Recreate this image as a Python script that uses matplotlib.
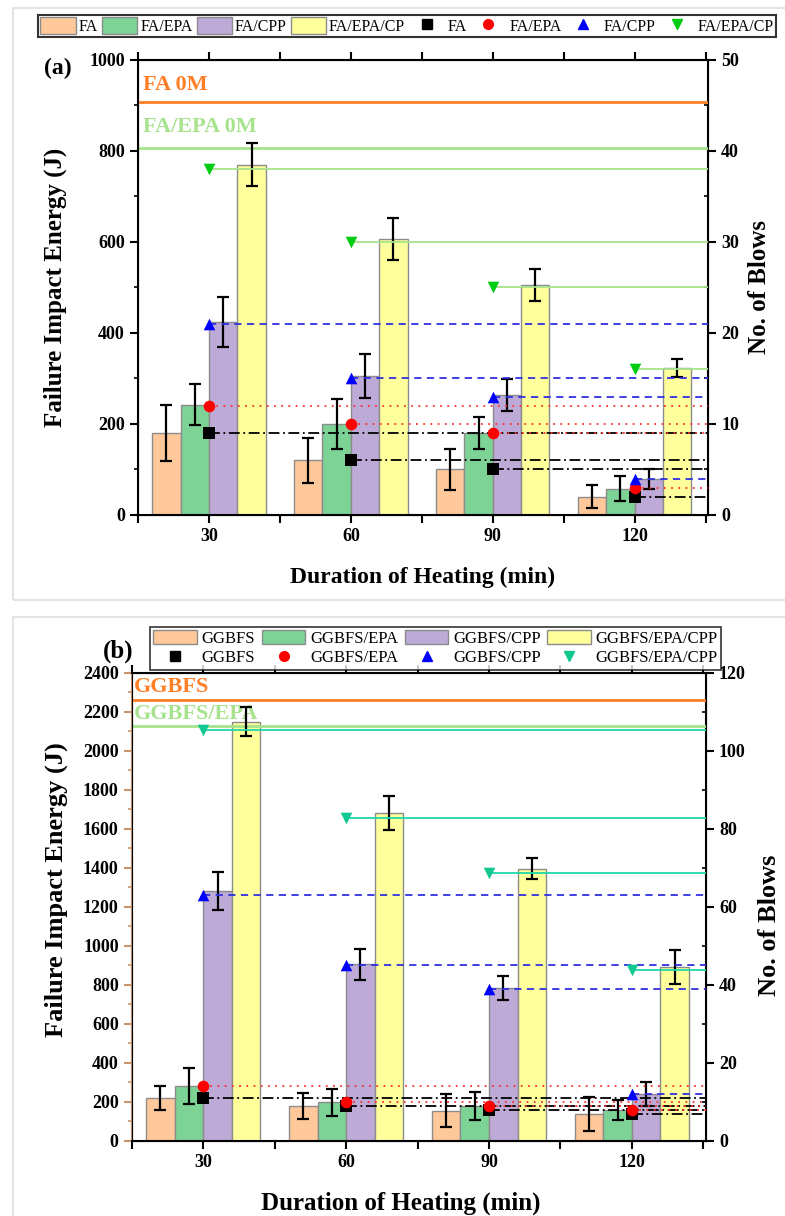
import numpy as np
import matplotlib.pyplot as plt
from matplotlib.patches import Patch, Rectangle
from matplotlib.lines import Line2D
from matplotlib.ticker import MultipleLocator

plt.rcParams['font.family'] = ['Liberation Serif', 'DejaVu Serif']
plt.rcParams['font.weight'] = 'bold'

# heating durations (min)
durations = [30, 60, 90, 120]

# panel (a) - failure impact energy (J)
fa = [180, 120, 100, 40]
fa_err = [62, 50, 45, 25]
fa_epa = [242, 200, 180, 58]
fa_epa_err = [45, 55, 35, 27]
fa_cpp = [425, 305, 264, 80]
fa_cpp_err = [55, 48, 35, 22]
fa_epa_cp = [770, 606, 505, 323]
fa_epa_cp_err = [48, 46, 35, 20]

# panel (a) - number of blows
fa_blows = [9, 6, 5, 2]
fa_epa_blows = [12, 10, 9, 3]
fa_cpp_blows = [21, 15, 13, 4]
fa_epa_cp_blows = [38, 30, 25, 16]
fa_0m = 908      # J
fa_epa_0m = 806  # J

# panel (b) - failure impact energy (J)
gg = [220, 180, 155, 140]
gg_err = [62, 68, 85, 88]
gg_epa = [280, 198, 178, 158]
gg_epa_err = [92, 68, 72, 52]
gg_cpp = [1280, 905, 785, 240]
gg_cpp_err = [97, 80, 60, 60]
gg_epa_cpp = [2150, 1682, 1397, 892]
gg_epa_cpp_err = [75, 87, 55, 87]

# panel (b) - number of blows
gg_blows = [11, 9, 8, 7]
gg_epa_blows = [14, 10, 9, 8]
gg_cpp_blows = [63, 45, 39, 12]
gg_epa_cpp_blows = [105.3, 82.7, 68.6, 43.8]
gg_0m = 2262
gg_epa_0m = 2128

bar_colors = ['#ffc89b', '#7dd296', '#bdaad6', '#ffff9c']
offsets = [-12, -6, 0, 6]
bw = 6

fig = plt.figure(figsize=(7.85, 12.16), dpi=100)

# light panel frames
fig.add_artist(Rectangle((13 / 785, 1 - 600 / 1216), 0.99, 592 / 1216, transform=fig.transFigure,
                         fill=False, ec='#e4e4e4', lw=1.5))
fig.add_artist(Rectangle((13 / 785, -0.01), 0.99, 1 - 617 / 1216 + 0.01, transform=fig.transFigure,
                         fill=False, ec='#e4e4e4', lw=1.5))


def draw_panel(ax, series, errs, blows, mk_colors, line_styles, left_max, left_step, right_max, right_step):
    x = np.array(durations)
    for i in range(4):
        ax.bar(x + offsets[i], series[i], width=bw, align='edge', color=bar_colors[i],
               edgecolor='#8c8c8c', lw=1, zorder=2)
        ax.errorbar(x + offsets[i] + bw / 2, series[i], yerr=errs[i], fmt='none', ecolor='black',
                    elinewidth=1.6, capsize=4, capthick=1.6, zorder=4)
    ax.set_xlim(15, 135.5)
    ax.set_ylim(0, left_max)
    ax.set_xticks(durations)
    ax.xaxis.set_minor_locator(MultipleLocator(15))
    ax.yaxis.set_major_locator(MultipleLocator(left_step))
    ax.yaxis.set_minor_locator(MultipleLocator(left_step / 2))
    ax.tick_params(axis='both', which='major', labelsize=13, width=1.5, length=6, direction='out')
    ax.tick_params(axis='y', which='minor', width=1.2, length=3, direction='out')
    ax.tick_params(axis='x', which='minor', width=1.5, length=6, direction='out')
    ax.tick_params(axis='x', which='both', top=True, labeltop=False)
    for s in ax.spines.values():
        s.set_linewidth(1.5)

    ax2 = ax.twinx()
    ax2.set_ylim(0, right_max)
    ax2.yaxis.set_major_locator(MultipleLocator(right_step))
    ax2.yaxis.set_minor_locator(MultipleLocator(right_step / 2))
    ax2.tick_params(axis='y', which='major', labelsize=13, width=1.5, length=6, direction='out')
    ax2.tick_params(axis='y', which='minor', width=1.2, length=3, direction='in')
    markers = ['s', 'o', '^', 'v']
    for i in range(4):
        ax2.hlines(blows[i], x, 135.5, colors=line_styles[i][0], linestyles=line_styles[i][1],
                   lw=1.3, zorder=3)
        ax2.scatter(x, blows[i], marker=markers[i], s=70, color=mk_colors[i], zorder=5, lw=0)
    return ax2


# ---------- panel (a)
axa = fig.add_axes([0.1758, 0.5765, 0.726, 0.3742])
mk_a = ['black', '#ff0000', '#0000ff', '#00cc11']
ls_a = [('black', (0, (6, 2, 1, 2))), ('#ff3030', (0, (1, 3))), ('#3030e0', (0, (4, 3))),
        ('#a6e38c', '-')]
axa2 = draw_panel(axa, [fa, fa_epa, fa_cpp, fa_epa_cp], [fa_err, fa_epa_err, fa_cpp_err, fa_epa_cp_err],
                  [fa_blows, fa_epa_blows, fa_cpp_blows, fa_epa_cp_blows], mk_a, ls_a, 1000, 200, 50, 10)
axa.axhline(fa_0m, color='#ff7f27', lw=2, zorder=3)
axa.axhline(fa_epa_0m, color='#a6e38c', lw=2, zorder=3)
axa.text(16, 945, 'FA 0M', color='#ff7f27', fontsize=16, fontweight='bold', va='center')
axa.text(16, 853, 'FA/EPA 0M', color='#a6e38c', fontsize=16, fontweight='bold', va='center')
fig.text(0.07, 0.7636, 'Failure Impact Energy (J)', rotation=90, fontsize=18, fontweight='bold',
         ha='center', va='center')
fig.text(0.968, 0.7636, 'No. of Blows', rotation=90, fontsize=18, fontweight='bold',
         ha='center', va='center')
fig.text(0.538, 1 - 577 / 1216, 'Duration of Heating (min)', fontsize=17, fontweight='bold',
         ha='center', va='center')
fig.text(0.074, 1 - 68 / 1216, '(a)', fontsize=17, fontweight='bold', ha='center', va='center')

names_a = ['FA', 'FA/EPA', 'FA/CPP', 'FA/EPA/CP']
handles_a = [Patch(facecolor=bar_colors[i], edgecolor='#8c8c8c') for i in range(4)]
handles_a += [Line2D([], [], ls='none', marker=m, color=c, markersize=7)
              for m, c in zip(['s', 'o', '^', 'v'], mk_a)]
leg_a = fig.legend(handles_a, names_a + names_a, loc='upper left', bbox_to_anchor=(38 / 785, 1 - 15 / 1216),
                   ncol=8, frameon=True, fancybox=False, edgecolor='black',
                   handlelength=2.2, handleheight=1.2, handletextpad=0.2, columnspacing=0.25,
                   borderpad=0.15, borderaxespad=0, prop={'weight': 'normal', 'size': 11.5})
leg_a.get_frame().set_linewidth(1.5)

# ---------- panel (b)
axb = fig.add_axes([0.168, 0.0617, 0.731, 0.3849])
mk_b = ['black', '#ff0000', '#0000ff', '#10c890']
ls_b = [('black', (0, (6, 2, 1, 2))), ('#ff3030', (0, (1, 3))), ('#3030e0', (0, (4, 3))),
        ('#20d8a8', '-')]
axb2 = draw_panel(axb, [gg, gg_epa, gg_cpp, gg_epa_cpp], [gg_err, gg_epa_err, gg_cpp_err, gg_epa_cpp_err],
                  [gg_blows, gg_epa_blows, gg_cpp_blows, gg_epa_cpp_blows], mk_b, ls_b, 2400, 200, 120, 20)
axb.spines['left'].set_color('#c8946e')
axb.tick_params(axis='y', which='both', color='#c8946e')
axb.axhline(gg_0m, color='#ff7f27', lw=2, zorder=3)
axb.axhline(gg_epa_0m, color='#a6e38c', lw=2, zorder=3)
axb.text(15.5, 2330, 'GGBFS', color='#ff7f27', fontsize=16, fontweight='bold', va='center')
axb.text(15.5, 2190, 'GGBFS/EPA', color='#a6e38c', fontsize=16, fontweight='bold', va='center')
fig.text(0.072, 1 - 890 / 1216, 'Failure Impact Energy (J)', rotation=90, fontsize=19, fontweight='bold',
         ha='center', va='center')
fig.text(0.98, 1 - 925 / 1216, 'No. of Blows', rotation=90, fontsize=19, fontweight='bold',
         ha='center', va='center')
fig.text(0.51, 1 - 1203 / 1216, 'Duration of Heating (min)', fontsize=18, fontweight='bold',
         ha='center', va='center')
fig.text(0.15, 1 - 651 / 1216, '(b)', fontsize=18, fontweight='bold', ha='center', va='center')

names_b = ['GGBFS', 'GGBFS/EPA', 'GGBFS/CPP', 'GGBFS/EPA/CPP']
handles_b = []
labels_b = []
for i in range(4):
    handles_b.append(Patch(facecolor=bar_colors[i], edgecolor='#8c8c8c'))
    labels_b.append(names_b[i])
    handles_b.append(Line2D([], [], ls='none', marker=['s', 'o', '^', 'v'][i], color=mk_b[i], markersize=7))
    labels_b.append(names_b[i])
leg_b = fig.legend(handles_b, labels_b, loc='upper left', bbox_to_anchor=(150 / 785, 1 - 627 / 1216),
                   ncol=4, frameon=True, fancybox=False, edgecolor='black',
                   handlelength=2.6, handleheight=0.9, handletextpad=0.3, columnspacing=0.4,
                   borderpad=0.2, labelspacing=0.15, borderaxespad=0,
                   prop={'weight': 'normal', 'size': 12})
leg_b.get_frame().set_linewidth(1.2)

fig.savefig('out.png', dpi=100)
